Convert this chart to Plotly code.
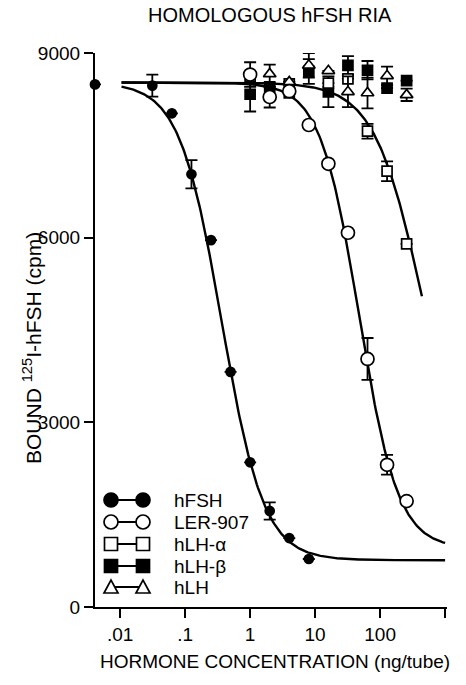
import numpy as np
import plotly.graph_objects as go

# ---------------- data ----------------
ZERO_DOSE_POS = 0.0041  # zero-dose point drawn on the y axis

HFSH_DOSE = [0, 0.03125, 0.0625, 0.125, 0.25, 0.5, 1, 2, 4, 8]
HFSH_BOUND = [8490, 8470, 8020, 7030, 5960, 3820, 2350, 1560, 1120, 780]
HFSH_ERR = [0, 180, 0, 230, 0, 0, 0, 140, 0, 0]

LER_DOSE = [1, 2, 4, 8, 16, 32, 64, 128, 256]
LER_BOUND = [8650, 8285, 8380, 7830, 7200, 6080, 4030, 2310, 1720]
LER_ERR = [200, 170, 0, 0, 0, 0, 340, 160, 0]

LHA_DOSE = [1, 4, 16, 32, 64, 128, 256]
LHA_BOUND = [8620, 8500, 8510, 8580, 7730, 7080, 5900]
LHA_ERR = [0, 0, 0, 0, 120, 160, 0]

LHB_DOSE = [1, 2, 4, 8, 16, 32, 64, 128, 256]
LHB_BOUND = [8330, 8450, 8350, 8700, 8370, 8800, 8720, 8430, 8550]
LHB_ERR = [280, 0, 0, 200, 250, 150, 150, 0, 0]

LH_DOSE = [2, 4, 8, 16, 32, 64, 128, 256]
LH_BOUND = [8660, 8530, 8800, 8710, 8370, 8350, 8630, 8320]
LH_ERR = [150, 0, 200, 0, 250, 250, 150, 100]

# fitted logistic curves: (top, bottom, ED50, slope, x_start, x_end)
FIT_HFSH = (8520, 760, 0.365, 1.34, 0.0105, 1000)
FIT_LER = (8520, 950, 47.5, 1.45, 0.0105, 1000)
FIT_LHA = (8520, 1300, 470, 1.15, 0.0105, 440)

X_TICKS = [0.01, 0.1, 1, 10, 100, 1000]
X_TICKTEXT = [".01", ".1", "1", "10", "100", "1000"]
Y_TICKS = [0, 3000, 6000, 9000]
Y_TICKTEXT = ["0", "3000", "6000", "9000"]

LEGEND_NAMES = ["hFSH", "LER-907", "hLH-α", "hLH-β", "hLH"]

# ---------------- figure ----------------
W, H = 466, 685
ML, MR, MT, MB = 95, 19, 53, 78
FONT = "Liberation Sans, Arial, sans-serif"

fig = go.Figure()


def curve(params):
    top, bot, c, h, x0, x1 = params
    xs = np.logspace(np.log10(x0), np.log10(x1), 300)
    ys = bot + (top - bot) / (1 + (xs / c) ** h)
    return xs, ys


for p in (FIT_HFSH, FIT_LER, FIT_LHA):
    cx, cy = curve(p)
    fig.add_trace(go.Scatter(x=cx, y=cy, mode="lines",
                             line=dict(color="black", width=2.4),
                             showlegend=False, hoverinfo="skip"))


def pts(dose, val, err, symbol, size, fill, lw=1.7):
    xs = [ZERO_DOSE_POS if d == 0 else d for d in dose]
    fig.add_trace(go.Scatter(
        x=xs, y=val, mode="markers",
        error_y=dict(type="data", array=err, visible=True,
                     color="black", thickness=1.8, width=6),
        marker=dict(symbol=symbol, size=size, color=fill,
                    line=dict(color="black", width=lw)),
        cliponaxis=False, showlegend=False))


pts(LHB_DOSE, LHB_BOUND, LHB_ERR, "square", 10, "black")
pts(LHA_DOSE, LHA_BOUND, LHA_ERR, "square", 10, "white")
pts(LH_DOSE, LH_BOUND, LH_ERR, "triangle-up", 11, "white")
pts(LER_DOSE, LER_BOUND, LER_ERR, "circle", 13, "white")
pts(HFSH_DOSE, HFSH_BOUND, HFSH_ERR, "circle", 9, "black")

# ---------------- manual legend ----------------
PW = W - ML - MR
PH = H - MT - MB


def px_to_paper(xp, yp):
    return (xp - ML) / PW, (H - MB - yp) / PH


shapes = []
annotations = []
row_y = [500, 522, 544, 566, 587]
x_left, x_right, x_text = 111, 143, 172
for i, name in enumerate(LEGEND_NAMES):
    yp = row_y[i]
    ax_l, ay = px_to_paper(x_left, yp)
    ax_r, _ = px_to_paper(x_right, yp)
    shapes.append(dict(type="line", xref="paper", yref="paper",
                       x0=ax_l, x1=ax_r, y0=ay, y1=ay,
                       line=dict(color="black", width=2)))
    for axp in (ax_l, ax_r):
        base = dict(xref="paper", yref="paper", xsizemode="pixel",
                    ysizemode="pixel", xanchor=axp, yanchor=ay)
        if i in (0, 1):
            fill = "black" if i == 0 else "white"
            shapes.append(dict(type="circle", x0=-7, x1=7, y0=-7, y1=7,
                               fillcolor=fill,
                               line=dict(color="black", width=1.7), **base))
        elif i in (2, 3):
            fill = "white" if i == 2 else "black"
            shapes.append(dict(type="rect", x0=-6.5, x1=6.5, y0=-6.5, y1=6.5,
                               fillcolor=fill,
                               line=dict(color="black", width=1.7), **base))
        else:
            shapes.append(dict(type="path", path="M -7,-6 L 7,-6 L 0,7 Z",
                               fillcolor="white",
                               line=dict(color="black", width=1.7), **base))
    tx, ty = px_to_paper(x_text, yp)
    annotations.append(dict(text=name, xref="paper", yref="paper", x=tx, y=ty,
                            xanchor="left", yanchor="middle", showarrow=False,
                            font=dict(family=FONT, size=19, color="black")))

# title & axis titles
annotations.append(dict(text="HOMOLOGOUS hFSH RIA", xref="paper", yref="paper",
                        x=(270 - ML) / PW, y=(H - MB - 15) / PH,
                        xanchor="center", yanchor="middle", showarrow=False,
                        font=dict(family=FONT, size=20, color="black")))
annotations.append(dict(text="HORMONE CONCENTRATION (ng/tube)", xref="paper",
                        yref="paper", x=(275 - ML) / PW,
                        y=(H - MB - 661) / PH, xanchor="center",
                        yanchor="middle", showarrow=False,
                        font=dict(family=FONT, size=19, color="black")))
annotations.append(dict(text="BOUND <sup>125</sup>I-hFSH (cpm)", xref="paper",
                        yref="paper", x=(32 - ML) / PW,
                        y=(H - MB - 348) / PH, xanchor="center",
                        yanchor="middle", textangle=-90, showarrow=False,
                        font=dict(family=FONT, size=21, color="black")))

fig.update_layout(
    width=W, height=H,
    margin=dict(l=ML, r=MR, t=MT, b=MB, pad=0),
    paper_bgcolor="white", plot_bgcolor="white",
    font=dict(family=FONT, size=19, color="black"),
    shapes=shapes, annotations=annotations, showlegend=False,
    xaxis=dict(type="log",
               range=[np.log10(ZERO_DOSE_POS), np.log10(1070)],
               tickvals=X_TICKS, ticktext=X_TICKTEXT,
               showline=True, linecolor="black", linewidth=2.2,
               ticks="outside", ticklen=9, tickwidth=2.2, tickcolor="black",
               showgrid=False, zeroline=False,
               tickfont=dict(family=FONT, size=19, color="black")),
    yaxis=dict(range=[0, 9000], tickvals=Y_TICKS, ticktext=Y_TICKTEXT,
               showline=True, linecolor="black", linewidth=2.2,
               ticks="outside", ticklen=9, tickwidth=2.2, tickcolor="black",
               showgrid=False, zeroline=False,
               tickfont=dict(family=FONT, size=19, color="black")),
)

fig.write_html("out.html")
